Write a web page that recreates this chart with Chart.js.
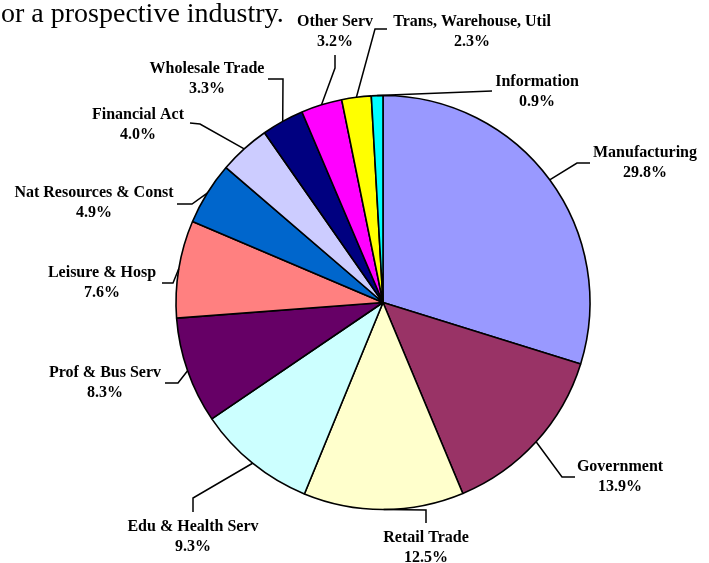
<!DOCTYPE html>
<html>
<head>
<meta charset="utf-8">
<script src="https://cdn.jsdelivr.net/npm/chart.js@4.4.1/dist/chart.umd.min.js"></script>
<style>
  html, body { margin: 0; padding: 0; background: #fff; }
  #wrap { width: 709px; height: 563px; position: relative; }
</style>
</head>
<body>
<div id="wrap"><canvas id="pieChart" width="709" height="563"></canvas></div>
<script>
const industries = ['Manufacturing', 'Government', 'Retail Trade', 'Edu & Health Serv', 'Prof & Bus Serv',
    'Leisure & Hosp', 'Nat Resources & Const', 'Financial Act', 'Wholesale Trade', 'Other Serv',
    'Trans, Warehouse, Util', 'Information'];
const shares = [29.8, 13.9, 12.5, 9.3, 8.3, 7.6, 4.9, 4.0, 3.3, 3.2, 2.3, 0.9];
const sliceColors = ['#9999FF', '#993366', '#FFFFCC', '#CCFFFF', '#660066', '#FF8080',
    '#0066CC', '#CCCCFF', '#000080', '#FF00FF', '#FFFF00', '#00FFFF'];

// label layout, offsets from the pie centre
const leaderBends = [
    [[194, -139.5], [207, -139.5]],
    [[179, 174.5], [192, 174.5]],
    [[43, 207.5], [43, 220.5]],
    [[-190, 195.5], [-190, 209.5]],
    [[-205, 80.5], [-218, 80.5]],
    [[-210, -19.5], [-221, -19.5]],
    [[-191, -98.5], [-206, -98.5]],
    [[-183, -178.5], [-193, -179.5]],
    [[-100, -223.5], [-115, -223.5]],
    [[-48, -234.5], [-48, -247.5]],
    [[-8, -273.5], [4, -273.5]],
    [[109, -211.5]]
];
const labelSpots = [
    [262, -139.5], [237, 174.5], [43, 245.5], [-190, 234.5], [-278, 80.5], [-281, -19.5],
    [-289, -99.5], [-245, -177.5], [-176, -224], [-48, -270.5], [89, -270.5], [154, -211]
];

const labelPlugin = {
    id: 'pieLabels',
    afterDraw(chart) {
        const ctx = chart.ctx;
        const arcs = chart.getDatasetMeta(0).data;

        ctx.save();
        ctx.fillStyle = '#000';
        ctx.font = '28px "Liberation Serif", "Times New Roman", serif';
        ctx.textAlign = 'left';
        ctx.textBaseline = 'alphabetic';
        ctx.fillText('or a prospective industry.', 1, 22);

        ctx.strokeStyle = '#000';
        ctx.lineWidth = 1.5;
        ctx.font = 'bold 16px "Liberation Serif", "Times New Roman", serif';
        ctx.textAlign = 'center';
        ctx.textBaseline = 'middle';

        arcs.forEach(function (arc, i) {
            const p = arc.getProps(['x', 'y', 'startAngle', 'endAngle', 'outerRadius'], true);
            const mid = (p.startAngle + p.endAngle) / 2;
            ctx.beginPath();
            ctx.moveTo(p.x + p.outerRadius * Math.cos(mid), p.y + p.outerRadius * Math.sin(mid));
            leaderBends[i].forEach(function (pt) {
                ctx.lineTo(p.x + pt[0], p.y + pt[1]);
            });
            ctx.stroke();

            const tx = p.x + labelSpots[i][0];
            const ty = p.y + labelSpots[i][1];
            ctx.fillText(industries[i], tx, ty - 10);
            ctx.fillText(shares[i].toFixed(1) + '%', tx, ty + 10);
        });
        ctx.restore();
    }
};

new Chart(document.getElementById('pieChart').getContext('2d'), {
    type: 'pie',
    data: {
        labels: industries,
        datasets: [{
            data: shares,
            backgroundColor: sliceColors,
            borderColor: '#000',
            borderWidth: 1.6,
            radius: 207,
        }]
    },
    options: {
        responsive: false,
        animation: false,
        layout: {
            padding: { left: 176, right: 119, top: 95, bottom: 53 }
        },
        plugins: {
            legend: { display: false },
            tooltip: { enabled: false },
        },
    },
    plugins: [labelPlugin]
});
</script>
</body>
</html>
